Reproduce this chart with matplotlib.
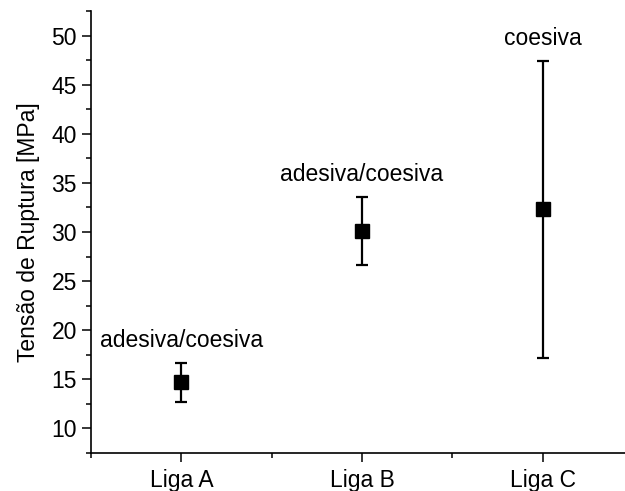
import matplotlib
matplotlib.use("Agg")
import matplotlib.pyplot as plt
from matplotlib.ticker import MultipleLocator

plt.rcParams['font.family'] = ['Liberation Sans', 'DejaVu Sans']

ligas = ["Liga A", "Liga B", "Liga C"]
tensao = [14.7, 30.1, 32.3]
erro = [2.0, 3.5, 15.1]
falha = ["adesiva/coesiva", "adesiva/coesiva", "coesiva"]

fs = 16.5
fig = plt.figure(figsize=(6.25, 4.91), dpi=100)
ax = fig.add_axes([91 / 625, 38 / 491, 542 / 625, 442 / 491])

pos = list(range(1, len(ligas) + 1))
ax.errorbar(pos, tensao, yerr=erro, fmt="s", color="black", ms=9.4,
            elinewidth=1.6, capsize=4, capthick=1.6)

for x, y, e, txt in zip(pos, tensao, erro, falha):
    ax.annotate(txt, (x, y + e), xytext=(0, 11.5), textcoords="offset points",
                ha="center", va="baseline", fontsize=fs)

ax.set_xlim(0.5, 3.5)
ax.set_ylim(7.5, 52.5)
ax.set_xticks(pos)
ax.set_xticklabels(ligas)
ax.xaxis.set_minor_locator(MultipleLocator(0.5))
ax.yaxis.set_major_locator(MultipleLocator(5))
ax.yaxis.set_minor_locator(MultipleLocator(2.5))
ax.set_yticks(range(10, 55, 5))

ax.spines["top"].set_visible(False)
ax.spines["right"].set_visible(False)
for s in ("left", "bottom"):
    ax.spines[s].set_linewidth(1.2)

ax.tick_params(which="major", direction="out", length=6.5, width=1.1, labelsize=fs)
ax.tick_params(which="minor", direction="out", length=3.6, width=1.1)
ax.tick_params(axis="y", which="major", pad=3.6)
ax.tick_params(axis="x", which="major", pad=5)

ax.set_ylabel("Tensão de Ruptura [MPa]", fontsize=fs)
ax.yaxis.set_label_coords(-0.094, 0.5)

fig.savefig("out.png", dpi=100)
